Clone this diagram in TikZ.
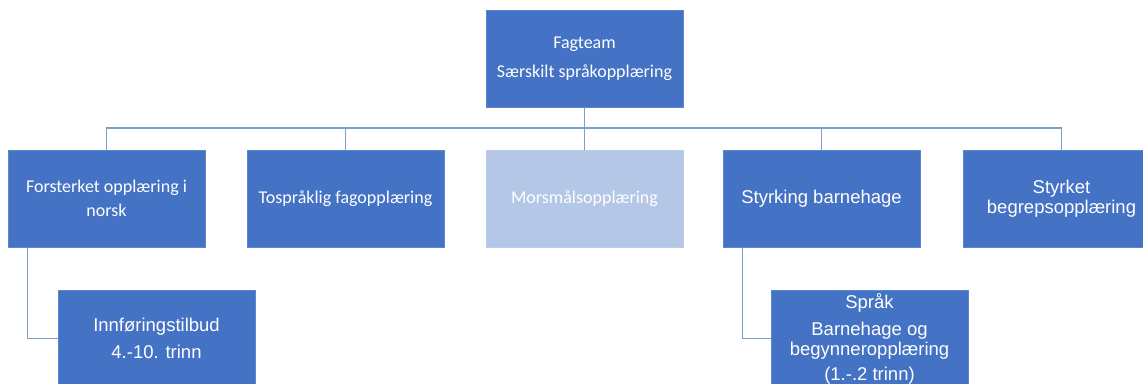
\documentclass[tikz,border=0pt]{standalone}
\usepackage{fontspec}
\setmainfont{Carlito}
\newfontfamily\arialfam{Liberation Sans}
\newcommand\calibf{\fontsize{18}{24}\selectfont}
\newcommand\arialf{\arialfam\fontsize{18.5}{20}\selectfont}
\definecolor{boxblue}{HTML}{4472C4}
\definecolor{boxlight}{HTML}{B4C7E7}
\definecolor{boxedge}{HTML}{5B86D0}
\definecolor{linecol}{HTML}{7F9CCF}
\tikzset{
  box/.style={fill=boxblue, draw=boxedge, line width=0.6pt, minimum width=197pt,
    minimum height=97pt, inner sep=0pt, text=white, align=center, font=\calibf},
  lightbox/.style={box, fill=boxlight, draw=boxlight!90!white},
  abox/.style={box, font=\arialf},
  conn/.style={draw=linecol, line width=1.3pt}
}
\begin{document}
\begin{tikzpicture}[x=1pt,y=-1pt]
\useasboundingbox (0,0) rectangle (1143,383);
\clip (0,0) rectangle (1143,383);
\node[box] (top) at (584.5,58.5) {Fagteam\\[5pt]Særskilt språkopplæring};
\node[box] (c1) at (106.5,198.5) {Forsterket opplæring i\\norsk};
\node[box] (c2) at (345.5,198.5) {Tospråklig fagopplæring};
\node[lightbox] (c3) at (584.5,198.5) {Morsmålsopplæring};
\node[abox] (c4) at (821.5,198.5) {Styrking barnehage};
\node[abox] (c5) at (1061.5,198.5) {Styrket\\begrepsopplæring};
\node[abox] (g1) at (156.5,338.5) {Innføringstilbud\\[7pt]4.-10. trinn};
\node[abox] (g2) at (869.5,338.5) {Språk\\[7pt]Barnehage og\\begynneropplæring\\[5pt](1.-.2 trinn)};
\coordinate (bus) at (0,128);
\foreach \c in {c1,c2,c3,c4,c5}{
  \draw[conn] (top.south) -- (top.south |- bus) -| (\c.north);
}
\draw[conn] ([xshift=20pt]c1.south west) |- (g1.west);
\draw[conn] ([xshift=20pt]c4.south west) |- (g2.west);
\end{tikzpicture}
\end{document}
